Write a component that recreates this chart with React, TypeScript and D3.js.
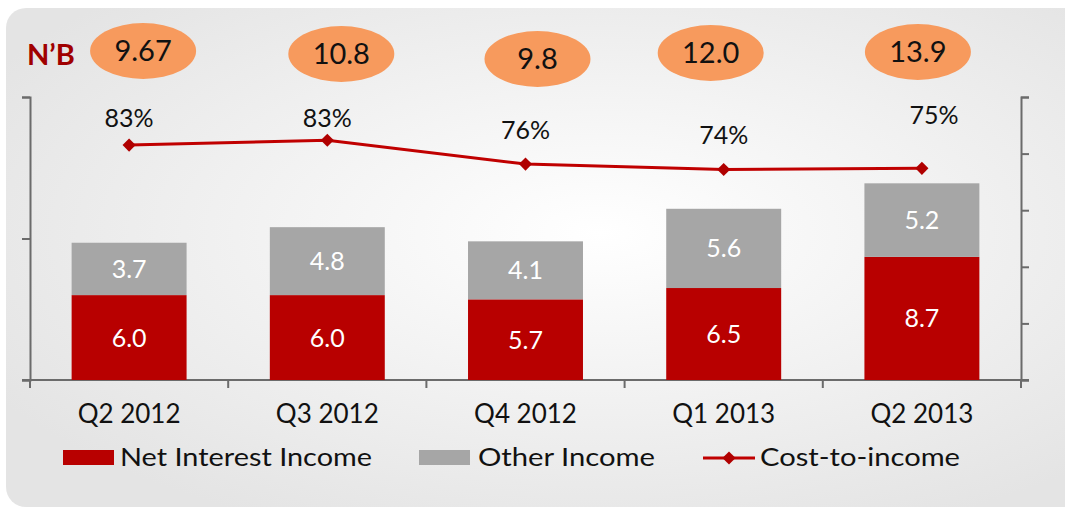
import React, { useEffect, useRef } from "react";
import * as d3 from "d3";

const categories = ["Q2 2012", "Q3 2012", "Q4 2012", "Q1 2013", "Q2 2013"];
const netInterest = [6.0, 6.0, 5.7, 6.5, 8.7];
const otherIncome = [3.7, 4.8, 4.1, 5.6, 5.2];
const totalLabels = ["9.67", "10.8", "9.8", "12.0", "13.9"];
const costToIncome = [83.0, 84.7, 76.3, 74.4, 74.8];
const costLabels = ["83%", "83%", "76%", "74%", "75%"];
const leftTicks = [0, 10, 20];
const rightTicks = [0, 20, 40, 60, 80, 100];
const legendNames = ["Net Interest Income", "Other Income", "Cost-to-income"];

// small label nudges (dx, dy from marker)
const labelNudge = [
  [0, -18],
  [0, -13],
  [0, -25],
  [0, -25],
  [12, -44],
];
const bubbleNudge = [
  [14, 51],
  [14, 54],
  [12, 59],
  [-13, 53],
  [-4, 52],
];

const FONT = "'Lato', 'Open Sans', sans-serif";

export default function App() {
  const ref = useRef<SVGSVGElement>(null);

  useEffect(() => {
    const svg = d3.select(ref.current);
    svg.selectAll("*").remove();
    const width = 1065;
    const height = 511;
    const margin = { top: 97, right: 44, bottom: 131, left: 30 };

    const defs = svg.append("defs");
    const grad = defs
      .append("radialGradient")
      .attr("id", "bg")
      .attr("cx", "55%")
      .attr("cy", "45%")
      .attr("r", "65%");
    grad.append("stop").attr("offset", "0%").attr("stop-color", "#ffffff");
    grad.append("stop").attr("offset", "100%").attr("stop-color", "#e4e4e4");

    svg
      .append("rect")
      .attr("x", 6)
      .attr("y", 8)
      .attr("width", 1080)
      .attr("height", 499)
      .attr("rx", 20)
      .attr("fill", "url(#bg)");

    const x = d3
      .scaleBand()
      .domain(categories)
      .range([margin.left, width - margin.right])
      .paddingInner(0.42)
      .paddingOuter(0.21);
    const step = x.step();
    const y = d3
      .scaleLinear()
      .domain([0, 20])
      .range([height - margin.bottom, margin.top]);
    const y2 = d3
      .scaleLinear()
      .domain([0, 100])
      .range([height - margin.bottom, margin.top]);

    const axisColor = "#6b6b6b";
    const x0 = margin.left;
    const x1 = width - margin.right;
    const yBase = y(0);

    // axes
    const left = svg
      .append("g")
      .attr("transform", `translate(${x0},0)`)
      .call(d3.axisLeft(y).tickValues(leftTicks).tickSize(8).tickFormat(() => ""));
    const right = svg
      .append("g")
      .attr("transform", `translate(${x1},0)`)
      .call(d3.axisRight(y2).tickValues(rightTicks).tickSize(8).tickFormat(() => ""));
    [left, right].forEach((g) => {
      g.select(".domain").attr("stroke", axisColor).attr("stroke-width", 2);
      g.selectAll(".tick line").attr("stroke", axisColor).attr("stroke-width", 2);
    });

    svg
      .append("line")
      .attr("x1", x0 - 8)
      .attr("x2", x1 + 8)
      .attr("y1", yBase)
      .attr("y2", yBase)
      .attr("stroke", axisColor)
      .attr("stroke-width", 2);
    svg
      .append("g")
      .selectAll("line")
      .data(d3.range(categories.length + 1))
      .join("line")
      .attr("x1", (i) => x0 + i * step)
      .attr("x2", (i) => x0 + i * step)
      .attr("y1", yBase)
      .attr("y2", yBase + 8)
      .attr("stroke", axisColor)
      .attr("stroke-width", 2);

    // bars
    const red = "#b80000";
    const grey = "#a6a6a6";
    const bars = svg.append("g");
    categories.forEach((c, i) => {
      const bx = x(c)!;
      const bw = x.bandwidth();
      const n = netInterest[i];
      const o = otherIncome[i];
      bars
        .append("rect")
        .attr("x", bx)
        .attr("width", bw)
        .attr("y", y(n))
        .attr("height", y(0) - y(n))
        .attr("fill", red);
      bars
        .append("rect")
        .attr("x", bx)
        .attr("width", bw)
        .attr("y", y(n + o))
        .attr("height", y(n) - y(n + o))
        .attr("fill", grey);
      bars
        .append("text")
        .attr("x", bx + bw / 2)
        .attr("y", (y(0) + y(n)) / 2)
        .attr("dy", "0.36em")
        .attr("text-anchor", "middle")
        .attr("fill", "#fff")
        .attr("font-family", FONT)
        .attr("font-size", 25)
        .text(n.toFixed(1));
      bars
        .append("text")
        .attr("x", bx + bw / 2)
        .attr("y", (y(n) + y(n + o)) / 2)
        .attr("dy", "0.36em")
        .attr("text-anchor", "middle")
        .attr("fill", "#fff")
        .attr("font-family", FONT)
        .attr("font-size", 25)
        .text(o.toFixed(1));
    });

    // category labels
    svg
      .append("g")
      .selectAll("text")
      .data(categories)
      .join("text")
      .attr("x", (d) => x(d)! + x.bandwidth() / 2)
      .attr("y", 423)
      .attr("text-anchor", "middle")
      .attr("fill", "#111")
      .attr("font-family", FONT)
      .attr("font-size", 26)
      .text((d) => d);

    // line
    const cx = (i: number) => x(categories[i])! + x.bandwidth() / 2;
    const line = d3
      .line<number>()
      .x((_, i) => cx(i))
      .y((d) => y2(d));
    svg
      .append("path")
      .attr("d", line(costToIncome))
      .attr("fill", "none")
      .attr("stroke", "#c00000")
      .attr("stroke-width", 3);
    const diamond = d3.symbol().type(d3.symbolDiamond2).size(110);
    svg
      .append("g")
      .selectAll("path")
      .data(costToIncome)
      .join("path")
      .attr("transform", (d, i) => `translate(${cx(i)},${y2(d)})`)
      .attr("d", diamond)
      .attr("fill", "#b00000");
    svg
      .append("g")
      .selectAll("text")
      .data(costToIncome)
      .join("text")
      .attr("x", (d, i) => cx(i) + labelNudge[i][0])
      .attr("y", (d, i) => y2(d) + labelNudge[i][1])
      .attr("text-anchor", "middle")
      .attr("fill", "#111")
      .attr("font-family", FONT)
      .attr("font-size", 25)
      .text((d, i) => costLabels[i]);

    // total bubbles
    const bub = svg.append("g");
    totalLabels.forEach((t, i) => {
      const bx = cx(i) + bubbleNudge[i][0];
      const by = bubbleNudge[i][1];
      bub
        .append("ellipse")
        .attr("cx", bx)
        .attr("cy", by)
        .attr("rx", 53)
        .attr("ry", 28)
        .attr("fill", "#f79a5d");
      bub
        .append("text")
        .attr("x", bx)
        .attr("y", by)
        .attr("dy", "0.36em")
        .attr("text-anchor", "middle")
        .attr("fill", "#111")
        .attr("font-family", FONT)
        .attr("font-size", 29)
        .text(t);
    });

    svg
      .append("text")
      .attr("x", 27)
      .attr("y", 65)
      .attr("fill", "#a00000")
      .attr("font-family", FONT)
      .attr("font-weight", "bold")
      .attr("font-size", 29)
      .text("N’B");

    // legend
    const lg = svg.append("g").attr("font-family", FONT).attr("font-size", 25).attr("fill", "#111");
    lg.append("rect").attr("x", 63).attr("y", 450).attr("width", 51).attr("height", 15).attr("fill", red);
    lg.append("text")
      .attr("x", 120)
      .attr("y", 466)
      .attr("textLength", 252)
      .attr("lengthAdjust", "spacingAndGlyphs")
      .text(legendNames[0]);
    lg.append("rect").attr("x", 419).attr("y", 450).attr("width", 51).attr("height", 15).attr("fill", grey);
    lg.append("text")
      .attr("x", 478)
      .attr("y", 466)
      .attr("textLength", 177)
      .attr("lengthAdjust", "spacingAndGlyphs")
      .text(legendNames[1]);
    lg.append("line")
      .attr("x1", 703)
      .attr("x2", 755)
      .attr("y1", 458)
      .attr("y2", 458)
      .attr("stroke", "#c00000")
      .attr("stroke-width", 3);
    lg.append("path")
      .attr("transform", "translate(729,458)")
      .attr("d", diamond)
      .attr("fill", "#b00000");
    lg.append("text")
      .attr("x", 760)
      .attr("y", 466)
      .attr("textLength", 200)
      .attr("lengthAdjust", "spacingAndGlyphs")
      .text(legendNames[2]);
  }, []);

  return (
    <svg
      ref={ref}
      width={1065}
      height={511}
      style={{ position: "absolute", left: 0, top: 0, background: "#fff" }}
    />
  );
}
